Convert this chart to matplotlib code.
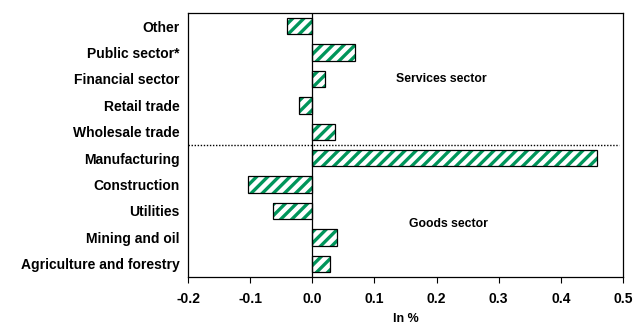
import numpy as np
import matplotlib
matplotlib.use('Agg')
import matplotlib.pyplot as plt

sectors = ['Agriculture and forestry', 'Mining and oil', 'Utilities', 'Construction',
           'Manufacturing', 'Wholesale trade', 'Retail trade', 'Financial sector',
           'Public sector*', 'Other']
values = [0.028, 0.040, -0.063, -0.104, 0.458, 0.036, -0.021, 0.020, 0.069, -0.040]
xticks = [-0.2, -0.1, 0.0, 0.1, 0.2, 0.3, 0.4, 0.5]

plt.rcParams['font.family'] = ['Liberation Sans', 'DejaVu Sans']
plt.rcParams['font.weight'] = 'bold'
plt.rcParams['font.size'] = 10
plt.rcParams['hatch.linewidth'] = 2.4

green = '#00955a'

fig = plt.figure(figsize=(6.35, 3.26), dpi=100)
ax = fig.add_axes([188/635, 1 - 277/326, (623-188)/635, (277-13)/326])

pos = np.arange(len(sectors))
# hatch in green, then black outline on top
ax.barh(pos, values, height=0.62, color='white', edgecolor=green, hatch='///', linewidth=0, zorder=2)
ax.barh(pos, values, height=0.62, fill=False, edgecolor='black', linewidth=0.9, zorder=3)

ax.axvline(0, color='black', linewidth=0.9, zorder=4)
ax.axhline(4.5, xmax=0.99, color='black', linestyle=(0, (1, 1.2)), linewidth=1.0)

ax.text(0.208, 7, 'Services sector', ha='center', va='center', fontsize=8.8, fontweight='bold')
ax.text(0.219, 1.5, 'Goods sector', ha='center', va='center', fontsize=8.8, fontweight='bold')

ax.set_xlim(-0.2, 0.5)
ax.set_ylim(-0.5, 9.5)
ax.set_xticks(xticks)
ax.set_xticklabels(['%.1f' % t for t in xticks])
ax.set_yticks(pos)
ax.set_yticklabels(sectors)
ax.tick_params(axis='y', length=0, pad=6)
ax.tick_params(axis='x', direction='out', length=4, width=0.8, pad=7)
ax.set_xlabel('In %', fontweight='bold', fontsize=9, labelpad=5)
for s in ax.spines.values():
    s.set_linewidth(0.9)

fig.savefig('out.png', dpi=100)
